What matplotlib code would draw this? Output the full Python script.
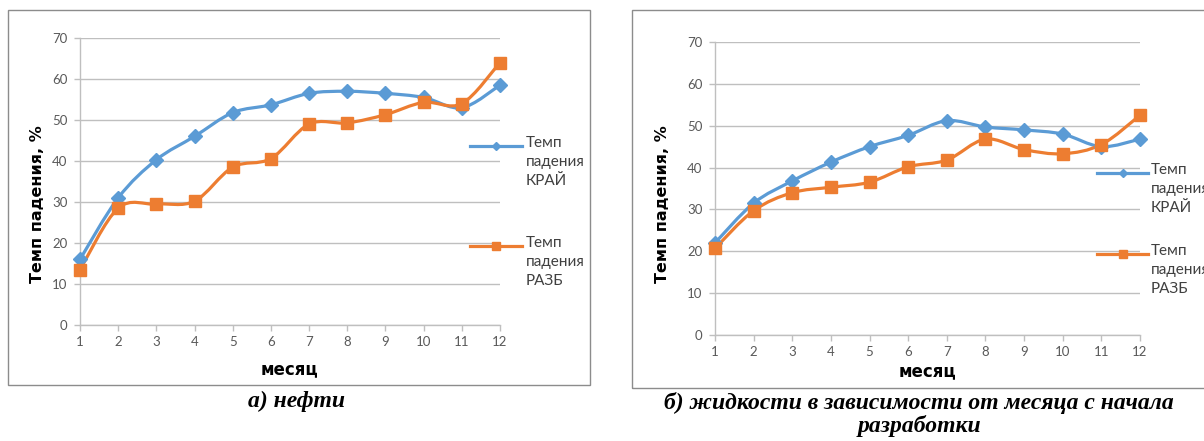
import matplotlib.pyplot as plt
import matplotlib.patches as mpatches
from matplotlib.path import Path
from matplotlib.lines import Line2D
import numpy as np

plt.rcParams.update({
    "font.family": ["Lato", "DejaVu Sans"],
    "xtick.labelsize": 9.5, "ytick.labelsize": 9.5,
    "xtick.color": "#595959", "ytick.color": "#595959",
})

BLUE   = "#5B9BD5"
ORANGE = "#ED7D31"
GRID_C = "#BFBFBF"
FRAME  = "#8C8C8C"

# ── Data ──────────────────────────────────────────────────────────────────────
months = [1, 2, 3, 4, 5, 6, 7, 8, 9, 10, 11, 12]

oil_krai = [16.0, 31.0, 40.3, 46.0, 51.8, 53.7, 56.5, 57.0, 56.5, 55.5, 53.0, 58.5]
oil_razb = [13.5, 28.5, 29.5, 30.2, 38.5, 40.6, 49.0, 49.3, 51.3, 54.3, 54.0, 64.0]

liq_krai = [22.0, 31.5, 36.8, 41.3, 45.0, 47.7, 51.2, 49.7, 49.0, 48.0, 45.0, 46.8]
liq_razb = [20.7, 29.7, 34.0, 35.3, 36.5, 40.2, 41.8, 46.8, 44.3, 43.3, 45.5, 52.5]

yticks = [0, 10, 20, 30, 40, 50, 60, 70]
label_krai = "Темп\nпадения\nКРАЙ"
label_razb = "Темп\nпадения\nРАЗБ"


def smooth_path(x, y):
    # Excel-like smoothed line: cubic Bezier segments (Catmull-Rom tangents)
    p = np.column_stack([x, y]).astype(float)
    verts = [p[0]]
    codes = [Path.MOVETO]
    n = len(p)
    for i in range(n - 1):
        p0 = p[i - 1] if i > 0 else p[i]
        p3 = p[i + 2] if i + 2 < n else p[i + 1]
        c1 = p[i] + (p[i + 1] - p0) / 6.0
        c2 = p[i + 1] - (p3 - p[i]) / 6.0
        verts += [c1, c2, p[i + 1]]
        codes += [Path.CURVE4] * 3
    return Path(verts, codes)


def draw_panel(ax, krai, razb, xpad, ylab_xy):
    for ys, col, mk, ms in [(krai, BLUE, "D", 7), (razb, ORANGE, "s", 8.5)]:
        ax.add_patch(mpatches.PathPatch(smooth_path(months, ys), facecolor="none",
                                        edgecolor=col, lw=2.3, zorder=3, clip_on=False,
                                        capstyle="round", joinstyle="round"))
        ax.plot(months, ys, ls="none", marker=mk, ms=ms, color=col, zorder=4,
                clip_on=False)
    ax.set_xlim(1, 12)
    ax.set_ylim(0, 70)
    ax.set_xticks(months)
    ax.set_yticks(yticks)
    ax.grid(axis="y", color=GRID_C, lw=1.0, zorder=0)
    ax.set_axisbelow(True)
    for s in ["top", "right"]:
        ax.spines[s].set_visible(False)
    for s in ["left", "bottom"]:
        ax.spines[s].set_color(GRID_C)
        ax.spines[s].set_linewidth(1.0)
    ax.tick_params(axis="both", length=4, color=GRID_C, width=1.0)
    ax.tick_params(axis="x", pad=4)
    ax.tick_params(axis="y", pad=5)
    ax.set_ylabel("Темп падения, %", fontsize=11.5, fontweight="bold",
                  color="black", family="DejaVu Sans")
    ax.yaxis.set_label_coords(*ylab_xy)
    ax.set_xlabel("месяц", fontsize=12, fontweight="bold", color="black",
                  family="DejaVu Sans", labelpad=xpad)


def draw_legend(fig, x0, x1, xt, y_top, y_bot):
    W, H = fig.get_size_inches() * fig.dpi
    for y, col, mk, ms, lbl in [(y_top, BLUE, "D", 4, label_krai),
                                (y_bot, ORANGE, "s", 6, label_razb)]:
        fig.add_artist(Line2D([x0 / W, x1 / W], [1 - y / H, 1 - y / H],
                              transform=fig.transFigure, color=col, lw=2.3))
        fig.add_artist(Line2D([(x0 + x1) / 2 / W], [1 - y / H],
                              transform=fig.transFigure, color=col,
                              marker=mk, ms=ms, ls="none"))
        fig.text(xt / W, 1 - (y - 10) / H, lbl, ha="left", va="top",
                 fontsize=11, color="#404040", linespacing=1.45)


fig = plt.figure(figsize=(12.04, 4.41), dpi=100)
fig.patch.set_facecolor("white")

ax1 = fig.add_axes([80 / 1204, 1 - 325 / 441, 420 / 1204, 287 / 441])
ax2 = fig.add_axes([715 / 1204, 1 - 335 / 441, 425 / 1204, 293 / 441])

draw_panel(ax1, oil_krai, oil_razb, 9, (-0.083, 0.42))
draw_panel(ax2, liq_krai, liq_razb, 3, (-0.105, 0.445))

draw_legend(fig, 470, 522, 526, 146, 246)
draw_legend(fig, 1097, 1148, 1151, 173, 254)

# frames around the two charts
fig.add_artist(mpatches.Rectangle((8 / 1204, 1 - 385 / 441), 582 / 1204, 375 / 441,
                                  transform=fig.transFigure, fill=False,
                                  edgecolor=FRAME, lw=1.0))
fig.add_artist(mpatches.Rectangle((632 / 1204, 1 - 388 / 441), 600 / 1204, 378 / 441,
                                  transform=fig.transFigure, fill=False,
                                  edgecolor=FRAME, lw=1.0))

# captions
fig.text(297 / 1204, 1 - 401 / 441, "а) нефти", ha="center", va="center",
         fontsize=17, fontweight="bold", fontstyle="italic",
         family="Liberation Serif")
fig.text(919 / 1204, 1 - 392 / 441, "б) жидкости в зависимости от месяца с начала\nразработки",
         ha="center", va="top", fontsize=17, fontweight="bold", fontstyle="italic",
         family="Liberation Serif", linespacing=1.05)

fig.savefig("out.png", dpi=100, facecolor="white")
